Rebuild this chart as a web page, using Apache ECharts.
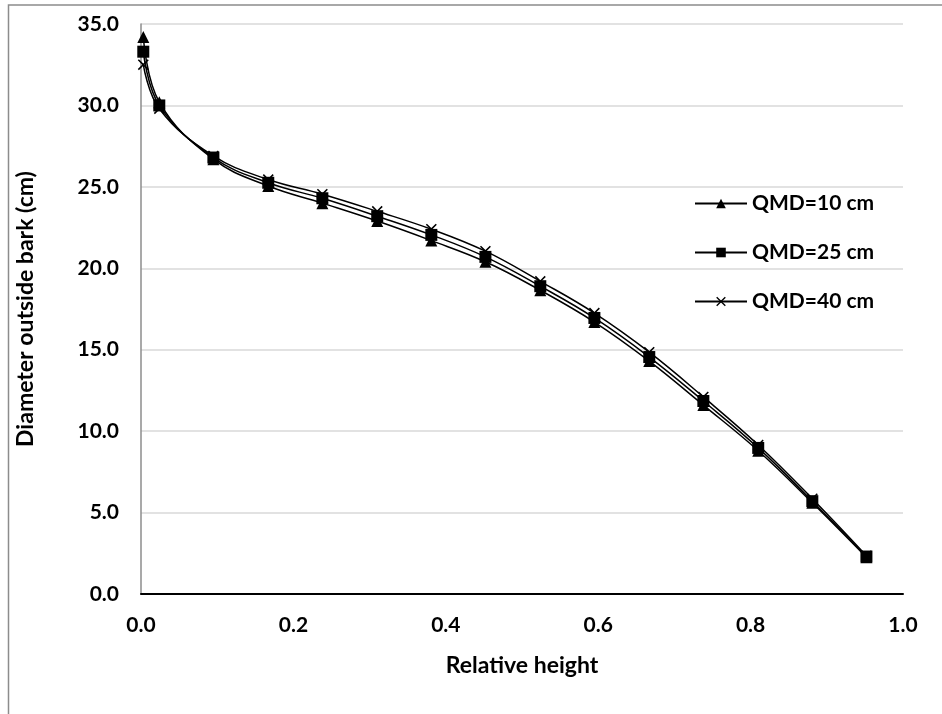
<!DOCTYPE html>
<html>
<head>
<meta charset="utf-8">
<script src="https://cdn.jsdelivr.net/npm/echarts@6/dist/echarts.min.js"></script>
<style>
  html, body { margin: 0; padding: 0; background: #fff; }
  #chart { width: 942px; height: 714px; }
</style>
</head>
<body>
<div id="chart"></div>
<script>
// relative height along the stem
var relHeight = [0.003, 0.024, 0.095, 0.167, 0.238, 0.310, 0.381, 0.452, 0.524, 0.595, 0.667, 0.738, 0.810, 0.881, 0.952];
// diameter outside bark (cm) per QMD class
var qmd10 = [34.2, 30.2, 26.7, 25.05, 24.0, 22.9, 21.7, 20.4, 18.65, 16.7, 14.3, 11.6, 8.8, 5.6, 2.25];
var qmd25 = [33.3, 30.0, 26.8, 25.25, 24.3, 23.2, 22.05, 20.7, 18.9, 16.95, 14.55, 11.85, 8.97, 5.7, 2.3];
var qmd40 = [32.5, 29.8, 26.9, 25.45, 24.55, 23.5, 22.4, 21.05, 19.2, 17.25, 14.85, 12.1, 9.15, 5.85, 2.35];
var seriesNames = ['QMD=10 cm', 'QMD=25 cm', 'QMD=40 cm'];

var FONT = 'Lato';
var crossPath = 'path://M0,1 L1,0 L5,4 L9,0 L10,1 L6,5 L10,9 L9,10 L5,6 L1,10 L0,9 L4,5 Z';

function pairs(ys) {
  var out = [];
  for (var i = 0; i < ys.length; i++) out.push([relHeight[i], ys[i]]);
  return out;
}

function makeSeries(name, ys, symbol, size) {
  return {
    name: name,
    type: 'line',
    data: pairs(ys),
    smooth: 0.4,
    symbol: symbol,
    symbolSize: size,
    showAllSymbol: true,
    lineStyle: { color: '#000', width: 1.5 },
    itemStyle: { color: '#000' },
    emphasis: { disabled: true }
  };
}

var chart = echarts.init(document.getElementById('chart'));
chart.setOption({
  animation: false,
  backgroundColor: '#fff',
  graphic: [{
    type: 'polyline',
    shape: { points: [[8.5, 714], [8.5, 5], [942, 5]] },
    style: { stroke: '#8c8c8c', lineWidth: 1.5, fill: null }
  }],
  grid: { left: 141, right: 39, top: 24, bottom: 120 },
  legend: {
    orient: 'vertical',
    left: 694,
    top: 193,
    padding: 0,
    itemWidth: 52,
    itemHeight: 12,
    itemGap: 28,
    data: seriesNames,
    textStyle: { fontFamily: FONT, fontWeight: 'bold', fontSize: 21, color: '#000' }
  },
  xAxis: {
    type: 'value',
    min: 0, max: 1, interval: 0.2,
    name: 'Relative height',
    nameLocation: 'middle',
    nameGap: 60,
    nameTextStyle: { fontFamily: FONT, fontWeight: 'bold', fontSize: 23, color: '#000' },
    axisLine: { lineStyle: { color: '#000', width: 2 } },
    axisTick: { show: false },
    splitLine: { show: false },
    axisLabel: {
      margin: 21,
      fontFamily: FONT, fontWeight: 'bold', fontSize: 21, color: '#000',
      formatter: function (v) { return v.toFixed(1); }
    }
  },
  yAxis: {
    type: 'value',
    min: 0, max: 35, interval: 5,
    name: 'Diameter outside bark (cm)',
    nameLocation: 'middle',
    nameGap: 104,
    nameTextStyle: { fontFamily: FONT, fontWeight: 'bold', fontSize: 23, color: '#000' },
    axisLine: { show: true, lineStyle: { color: '#8c8c8c', width: 1.5 } },
    axisTick: { show: false },
    splitLine: { lineStyle: { color: '#d9d9d9', width: 1.5 } },
    axisLabel: {
      margin: 22,
      fontFamily: FONT, fontWeight: 'bold', fontSize: 21, color: '#000',
      formatter: function (v) { return v.toFixed(1); }
    }
  },
  series: [
    makeSeries(seriesNames[0], qmd10, 'triangle', 12),
    makeSeries(seriesNames[1], qmd25, 'rect', 12),
    makeSeries(seriesNames[2], qmd40, crossPath, 11)
  ]
});
</script>
</body>
</html>
